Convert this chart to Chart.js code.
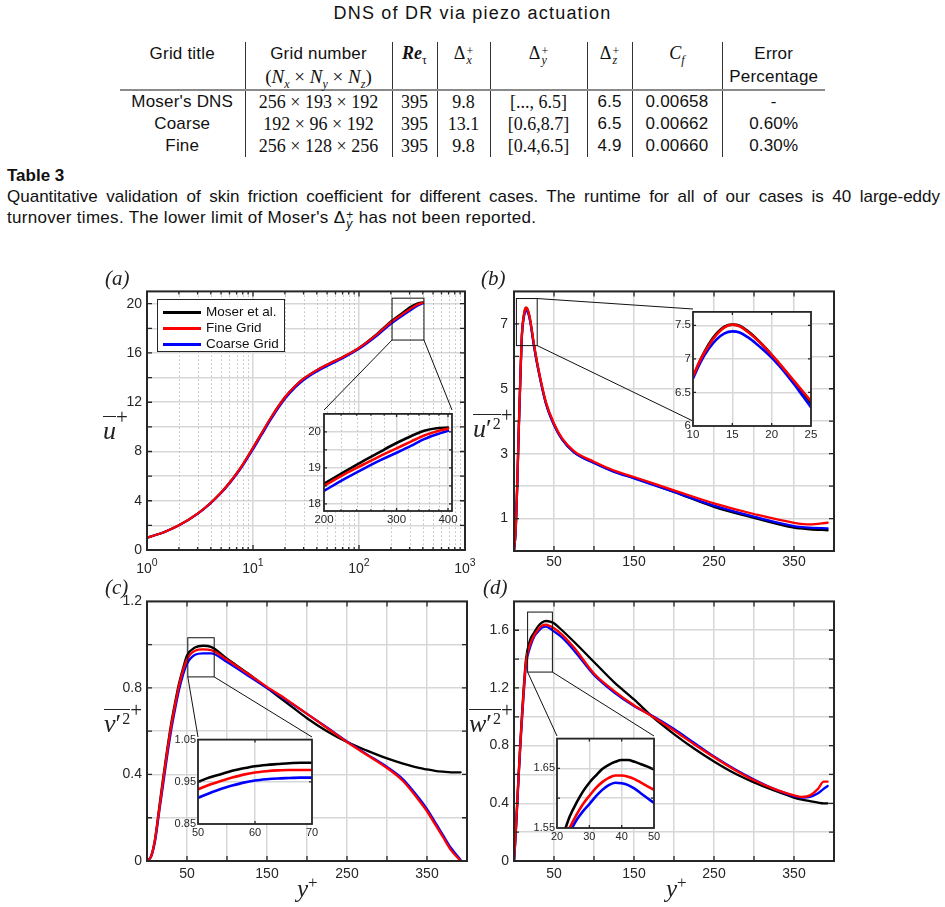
<!DOCTYPE html>
<html lang="en">
<head>
<meta charset="UTF-8">
<title>DNS of DR via piezo actuation</title>
<script src="https://cdn.jsdelivr.net/npm/chart.js@4.4.0/dist/chart.umd.min.js"></script>
<style>
  body { margin: 0; background: #fff; }
  #page { position: relative; width: 945px; height: 907px; overflow: hidden; background: #fff;
          font-family: "Liberation Sans", Arial, sans-serif; color: #111; }
  canvas { position: absolute; }
  .txt { position: absolute; white-space: nowrap; }
  .panel { font-family: "Liberation Serif", serif; font-style: italic; font-size: 21px; color: #222; }
  .axl { font-family: "Liberation Serif", serif; font-size: 25px; color: #222; line-height: 1; }
  .axl i { font-style: italic; }
  .axl sup { font-size: 17px; font-style: normal; vertical-align: 9px; }
  .yl { position: absolute; white-space: nowrap; font-family: "Liberation Serif", serif; font-size: 26px;
        line-height: 1; color: #222; }
  .yl .ovl { display: inline-block; border-top: 1.2px solid #222; padding-top: 1px; }
  .yl .ovl i { font-style: italic; }
  .yl .s2 { font-size: 16px; vertical-align: 8px; margin-left: 1px; }
  .yl .pl { font-size: 21px; vertical-align: 15px; }

  #tbl { position: absolute; left: 120px; top: 42px; border-collapse: collapse; font-size: 17px; letter-spacing: 0.2px; }
  #tbl td { padding: 0; text-align: center; white-space: nowrap; vertical-align: top; }
  #tbl td + td { border-left: 1px solid #333; }
  #tbl td div { height: 22px; line-height: 22px; }
  #tbl tr.h1 td div { height: 23px; line-height: 23px; }
  #tbl tr.h2 td div { height: 24px; line-height: 24px; }
  #tbl tr.h2 td { border-bottom: 2px solid #8a8a8a; }
  #tbl .m { font-family: "Liberation Serif", serif; font-size: 18px; letter-spacing: 0; }
  #tbl sub { font-size: 12px; line-height: 0; }
  .st { display: inline-block; vertical-align: -5px; line-height: 9px; font-size: 12px; text-align: left;
        margin-left: 1px; height: 14px; }
  .st span { display: block; }
  #cap1 { position: absolute; left: 7px; top: 187px; width: 933px; font-size: 17px; text-align: justify;
          text-align-last: justify; white-space: nowrap; }
  #cap2 { position: absolute; left: 7px; top: 208px; font-size: 17px; white-space: nowrap; letter-spacing: 0.3px; }
  .leg { position: absolute; left: 157px; top: 299px; width: 126px; height: 51px; border: 1.5px solid #262626;
         background: #fff; font-size: 13.5px; color: #111; }
  .leg div { position: absolute; left: 5px; height: 16px; line-height: 16px; }
  .leg span.ln { display: inline-block; width: 38px; height: 2.5px; vertical-align: middle; margin-right: 5px; }
</style>
</head>
<body>
<div id="page">
  <div class="txt" style="left:0; width:945px; top:3px; text-align:center; font-size:18px; letter-spacing:1.2px;">DNS of DR via piezo actuation</div>

  <table id="tbl">
    <colgroup>
      <col style="width:125px"><col style="width:147px"><col style="width:45px"><col style="width:53px">
      <col style="width:97px"><col style="width:45px"><col style="width:90px"><col style="width:103px">
    </colgroup>
    <tr class="h1">
      <td><div>Grid title</div></td><td><div>Grid number</div></td>
      <td class="m"><div><i><b>Re</b></i><sub>τ</sub></div></td>
      <td class="m"><div>Δ<span class="st"><span>+</span><span><i>x</i></span></span></div></td>
      <td class="m"><div>Δ<span class="st"><span>+</span><span><i>y</i></span></span></div></td>
      <td class="m"><div>Δ<span class="st"><span>+</span><span><i>z</i></span></span></div></td>
      <td class="m"><div><i>C</i><sub><i>f</i></sub></div></td>
      <td><div>Error</div></td>
    </tr>
    <tr class="h2">
      <td><div></div></td>
      <td class="m"><div style="font-size:19px">(<i>N</i><sub><i>x</i></sub> × <i>N</i><sub><i>y</i></sub> × <i>N</i><sub><i>z</i></sub>)</div></td>
      <td><div></div></td><td><div></div></td><td><div></div></td><td><div></div></td><td><div></div></td>
      <td><div>Percentage</div></td>
    </tr>
    <tr>
      <td><div>Moser's DNS</div></td><td class="m"><div>256 × 193 × 192</div></td><td class="m"><div>395</div></td>
      <td class="m"><div>9.8</div></td><td class="m"><div>[..., 6.5]</div></td><td><div>6.5</div></td>
      <td><div>0.00658</div></td><td><div>-</div></td>
    </tr>
    <tr>
      <td><div>Coarse</div></td><td class="m"><div>192 × 96 × 192</div></td><td class="m"><div>395</div></td>
      <td class="m"><div>13.1</div></td><td class="m"><div>[0.6,8.7]</div></td><td><div>6.5</div></td>
      <td><div>0.00662</div></td><td><div>0.60%</div></td>
    </tr>
    <tr>
      <td><div>Fine</div></td><td class="m"><div>256 × 128 × 256</div></td><td class="m"><div>395</div></td>
      <td class="m"><div>9.8</div></td><td class="m"><div>[0.4,6.5]</div></td><td><div>4.9</div></td>
      <td><div>0.00660</div></td><td><div>0.30%</div></td>
    </tr>
  </table>

  <div class="txt" style="left:7px; top:166px; font-size:17px; font-weight:bold;">Table 3</div>
  <div id="cap1">Quantitative validation of skin friction coefficient for different cases. The runtime for all of our cases is 40 large-eddy</div>
  <div id="cap2">turnover times. The lower limit of Moser's Δ<span class="st"><span>+</span><span><i>y</i></span></span> has not been reported.</div>

  <canvas id="mainA" width="384" height="304" style="left:97px; top:278px"></canvas>
  <canvas id="mainB" width="386" height="306" style="left:464px; top:277px"></canvas>
  <canvas id="mainC" width="386" height="305" style="left:97px; top:588px"></canvas>
  <canvas id="mainD" width="386" height="305" style="left:464px; top:588px"></canvas>
  <canvas id="zoomA" width="166" height="125" style="left:296px; top:404px"></canvas>
  <canvas id="zoomB" width="156" height="141" style="left:665px; top:303px"></canvas>
  <canvas id="zoomC" width="152" height="111" style="left:170px; top:731px"></canvas>
  <canvas id="zoomD" width="135" height="116" style="left:529px; top:730px"></canvas>

  <div class="leg">
    <div style="top:4px"><span class="ln" style="background:#000"></span>Moser et al.</div>
    <div style="top:20px"><span class="ln" style="background:#f00"></span>Fine Grid</div>
    <div style="top:36px"><span class="ln" style="background:#00f"></span>Coarse Grid</div>
  </div>

  <div class="txt panel" style="left:105px; top:266px">(a)</div>
  <div class="txt panel" style="left:481px; top:266px">(b)</div>
  <div class="txt panel" style="left:105px; top:575px">(c)</div>
  <div class="txt panel" style="left:483px; top:575px">(d)</div>

  <div class="yl" style="left:103px; top:407px"><span class="ovl"><i>u</i></span><span class="pl">+</span></div>
  <div class="yl" style="left:473px; top:405px"><span class="ovl"><i>u</i>′<span class="s2">2</span></span><span class="pl">+</span></div>
  <div class="yl" style="left:104px; top:700px"><span class="ovl"><i>v</i>′<span class="s2">2</span></span><span class="pl">+</span></div>
  <div class="yl" style="left:469px; top:700px"><span class="ovl"><i>w</i>′<span class="s2">2</span></span><span class="pl">+</span></div>
  <div class="txt axl" style="left:297px; top:874px"><i>y</i><sup>+</sup></div>
  <div class="txt axl" style="left:666px; top:874px"><i>y</i><sup>+</sup></div>
</div>

<script>
// (a) mean velocity, log y+
const yPlusA = [1, 1.5, 2, 3, 4, 5, 6, 7, 8, 10, 12, 15, 20, 25, 30, 40, 50, 70, 100, 150, 200, 250, 300, 350, 400];
const uMoser = [1.0, 1.51, 2.01, 2.96, 3.84, 4.67, 5.46, 6.22, 6.94, 8.3, 9.45, 10.84, 12.4, 13.32, 13.91, 14.61, 15.05, 15.66, 16.42, 17.6, 18.56, 19.18, 19.69, 20.0, 20.12];
const uFine = [1.0, 1.51, 2.01, 2.96, 3.84, 4.67, 5.46, 6.22, 6.94, 8.3, 9.45, 10.84, 12.4, 13.32, 13.91, 14.61, 15.05, 15.66, 16.42, 17.56, 18.5, 19.08, 19.54, 19.9, 20.08];
const uCoarse = [1.0, 1.51, 2.0, 2.94, 3.81, 4.63, 5.4, 6.14, 6.85, 8.18, 9.32, 10.7, 12.27, 13.2, 13.8, 14.5, 14.95, 15.57, 16.33, 17.45, 18.36, 18.95, 19.42, 19.8, 20.03];
const yPlusAZoom = [200, 225, 250, 275, 300, 325, 350, 375, 400];
const uMoserZoom = [18.56, 18.9, 19.2, 19.46, 19.69, 19.88, 20.03, 20.1, 20.12];
const uFineZoom = [18.5, 18.83, 19.1, 19.34, 19.54, 19.73, 19.9, 20.01, 20.09];
const uCoarseZoom = [18.36, 18.7, 18.98, 19.22, 19.42, 19.61, 19.8, 19.93, 20.03];

// (b) u'u'
const yPlusB = [0, 2, 4, 6, 8, 10, 12, 14, 15, 17, 20, 25, 30, 40, 50, 60, 75, 100, 125, 150, 200, 250, 300, 350, 370, 392];
const uuMoser = [0, 0.6, 2.0, 3.8, 5.4, 6.72, 7.22, 7.46, 7.5, 7.44, 7.14, 6.34, 5.65, 4.55, 3.9, 3.45, 3.05, 2.72, 2.45, 2.25, 1.82, 1.36, 1.02, 0.72, 0.67, 0.64];
const uuFine = [0, 0.6, 2.0, 3.8, 5.4, 6.72, 7.22, 7.47, 7.5, 7.45, 7.16, 6.37, 5.68, 4.58, 3.93, 3.48, 3.08, 2.75, 2.48, 2.28, 1.87, 1.47, 1.14, 0.87, 0.82, 0.87];
const uuCoarse = [0, 0.6, 2.0, 3.75, 5.3, 6.68, 7.15, 7.38, 7.41, 7.37, 7.1, 6.3, 5.62, 4.53, 3.88, 3.44, 3.04, 2.71, 2.44, 2.24, 1.82, 1.4, 1.06, 0.77, 0.72, 0.7];
const yPlusBZoom = [10, 11, 12, 13, 14, 15, 16, 17, 18, 19, 20, 21, 22, 23, 24, 25];
const uuMoserZoom = [6.73, 7.0, 7.22, 7.38, 7.48, 7.51, 7.49, 7.41, 7.31, 7.19, 7.06, 6.92, 6.78, 6.63, 6.49, 6.34];
const uuFineZoom = [6.74, 7.0, 7.2, 7.36, 7.47, 7.51, 7.48, 7.4, 7.3, 7.19, 7.06, 6.93, 6.79, 6.65, 6.51, 6.37];
const uuCoarseZoom = [6.71, 6.96, 7.15, 7.29, 7.38, 7.41, 7.39, 7.32, 7.23, 7.13, 7.02, 6.89, 6.75, 6.6, 6.44, 6.28];

// (c) v'v'
const yPlusC = [0, 5, 10, 15, 20, 25, 30, 35, 40, 45, 50, 60, 70, 80, 100, 125, 150, 175, 200, 225, 250, 275, 300, 320, 340, 350, 360, 370, 380, 392];
const vvMoser = [0, 0.02, 0.1, 0.24, 0.38, 0.51, 0.63, 0.73, 0.82, 0.89, 0.95, 0.987, 0.995, 0.99, 0.935, 0.87, 0.8, 0.73, 0.66, 0.6, 0.55, 0.51, 0.474, 0.45, 0.43, 0.423, 0.417, 0.413, 0.41, 0.41];
const vvFine = [0, 0.02, 0.1, 0.23, 0.37, 0.5, 0.62, 0.72, 0.81, 0.88, 0.932, 0.972, 0.978, 0.975, 0.93, 0.868, 0.805, 0.745, 0.68, 0.615, 0.55, 0.49, 0.43, 0.37, 0.28, 0.23, 0.17, 0.11, 0.05, 0];
const vvCoarse = [0, 0.02, 0.09, 0.22, 0.35, 0.48, 0.6, 0.7, 0.79, 0.86, 0.912, 0.953, 0.96, 0.96, 0.92, 0.86, 0.8, 0.742, 0.68, 0.617, 0.553, 0.493, 0.435, 0.378, 0.29, 0.24, 0.18, 0.12, 0.06, 0.005];
const yPlusCZoom = [50, 52, 54, 56, 58, 60, 62, 64, 66, 68, 70];
const vvMoserZoom = [0.95, 0.96, 0.968, 0.976, 0.982, 0.987, 0.99, 0.992, 0.994, 0.995, 0.995];
const vvFineZoom = [0.932, 0.943, 0.952, 0.96, 0.967, 0.972, 0.975, 0.977, 0.978, 0.978, 0.978];
const vvCoarseZoom = [0.912, 0.923, 0.933, 0.941, 0.948, 0.953, 0.956, 0.958, 0.959, 0.96, 0.96];

// (d) w'w'
const yPlusD = [0, 2, 4, 6, 8, 10, 12, 15, 20, 25, 30, 35, 40, 45, 50, 60, 75, 100, 125, 150, 175, 200, 225, 250, 275, 300, 325, 350, 360, 370, 380, 387, 392];
const wwMoser = [0, 0.18, 0.4, 0.62, 0.83, 1.02, 1.19, 1.4, 1.53, 1.583, 1.627, 1.654, 1.664, 1.66, 1.648, 1.6, 1.52, 1.38, 1.24, 1.12, 0.99, 0.88, 0.78, 0.69, 0.61, 0.545, 0.49, 0.44, 0.425, 0.415, 0.405, 0.4, 0.4];
const wwFine = [0, 0.18, 0.4, 0.62, 0.82, 1.0, 1.17, 1.38, 1.5, 1.563, 1.604, 1.632, 1.638, 1.629, 1.614, 1.57, 1.48, 1.3, 1.18, 1.08, 0.995, 0.905, 0.81, 0.72, 0.635, 0.56, 0.5, 0.455, 0.445, 0.455, 0.5, 0.55, 0.55];
const wwCoarse = [0, 0.17, 0.39, 0.6, 0.8, 0.98, 1.15, 1.36, 1.48, 1.554, 1.59, 1.618, 1.625, 1.612, 1.592, 1.55, 1.46, 1.29, 1.17, 1.075, 1.0, 0.915, 0.82, 0.725, 0.64, 0.565, 0.5, 0.45, 0.44, 0.445, 0.47, 0.5, 0.52];
const yPlusDZoom = [20, 22, 24, 26, 28, 30, 32, 34, 36, 38, 40, 42, 44, 46, 48, 50];
const wwMoserZoom = [1.51, 1.54, 1.57, 1.592, 1.611, 1.626, 1.638, 1.649, 1.656, 1.661, 1.664, 1.664, 1.661, 1.657, 1.653, 1.648];
const wwFineZoom = [1.5, 1.525, 1.551, 1.572, 1.59, 1.604, 1.617, 1.627, 1.634, 1.638, 1.638, 1.636, 1.632, 1.626, 1.62, 1.614];
const wwCoarseZoom = [1.48, 1.508, 1.542, 1.563, 1.578, 1.59, 1.603, 1.614, 1.622, 1.626, 1.625, 1.622, 1.616, 1.608, 1.6, 1.592];

// ticks
const xTicksA = [1, 10, 100, 1000];
const xExpA = ['0', '1', '2', '3'];
const xMinorA = [2, 3, 4, 5, 6, 7, 8, 9, 20, 30, 40, 50, 60, 70, 80, 90, 200, 300, 400, 500, 600, 700, 800, 900];
const yTicksA = [0, 2, 4, 6, 8, 10, 12, 14, 16, 18, 20];
const yLabelsA = [0, 4, 8, 12, 16, 20];
const xTicksAZoom = [200, 300, 400];
const xMinorAZoom = [220, 240, 260, 280, 320, 340, 360, 380];
const yTicksAZoom = [18, 18.5, 19, 19.5, 20];
const yLabelsAZoom = [18, 19, 20];
const xTicksLin = [0, 50, 100, 150, 200, 250, 300, 350, 400];
const xLabelsLin = [50, 150, 250, 350];
const yTicksB = [0, 1, 2, 3, 4, 5, 6, 7, 8];
const yLabelsB = [1, 3, 5, 7];
const xTicksBZoom = [10, 15, 20, 25];
const yTicksBZoom = [6, 6.5, 7, 7.5];
const yTicksC = [0, 0.2, 0.4, 0.6, 0.8, 1.0, 1.2];
const yLabelsC = [0, 0.4, 0.8, 1.2];
const xTicksCZoom = [50, 60, 70];
const yTicksCZoom = [0.85, 0.95, 1.05];
const yTicksD = [0, 0.2, 0.4, 0.6, 0.8, 1.0, 1.2, 1.4, 1.6, 1.8];
const yLabelsD = [0, 0.4, 0.8, 1.2, 1.6];
const xTicksDZoom = [20, 30, 40, 50];
const yTicksDZoom = [1.55, 1.6, 1.65, 1.7];
const yLabelsDZoom = [1.55, 1.65];

const GRID = '#d7d7d7';
const AXIS = '#262626';

function pts(xs, ys) { return xs.map((x, i) => ({ x: x, y: ys[i] })); }

function lines(xs, moser, fine, coarse, w) {
  const base = { pointRadius: 0, fill: false, cubicInterpolationMode: 'monotone', borderWidth: w,
                 borderJoinStyle: 'round', borderCapStyle: 'round' };
  return [
    Object.assign({ label: 'Moser et al.', data: pts(xs, moser), borderColor: '#000000', order: 3 }, base),
    Object.assign({ label: 'Coarse Grid', data: pts(xs, coarse), borderColor: '#0000ff', order: 2 }, base),
    Object.assign({ label: 'Fine Grid', data: pts(xs, fine), borderColor: '#ff0000', order: 1 }, base)
  ];
}

function near(list, v) { return list.some(t => Math.abs(t - v) < 1e-9); }

function axis(kind, min, max, ticks, labelFn, size, pad, fontSize) {
  const isX = kind === 'x';
  return {
    type: 'linear', min: min, max: max,
    afterBuildTicks: s => { s.ticks = ticks.map(v => ({ value: v })); },
    afterFit: s => { if (isX) s.height = size; else s.width = size; },
    ticks: { autoSkip: false, maxRotation: 0, padding: pad, color: AXIS,
             font: { family: 'Liberation Sans', size: fontSize }, callback: labelFn },
    grid: { color: GRID, lineWidth: 1.5, drawTicks: false },
    border: { display: false }
  };
}

const framePlugin = {
  id: 'frame',
  beforeDraw(chart, args, o) {
    if (!o.fill) return;
    const a = chart.chartArea, ctx = chart.ctx;
    ctx.save();
    ctx.fillStyle = '#ffffff';
    ctx.fillRect(a.left, a.top, a.width, a.height);
    ctx.restore();
  },
  beforeDatasetsDraw(chart, args, o) {
    if (!o.minorX) return;
    const { ctx, chartArea: a } = chart, x = chart.scales.x;
    ctx.save();
    ctx.strokeStyle = '#bdbdbd';
    ctx.lineWidth = 1;
    ctx.setLineDash([1.5, 2.5]);
    ctx.beginPath();
    o.minorX.forEach(v => {
      const p = Math.round(x.getPixelForValue(v)) + 0.5;
      if (p > a.left + 1 && p < a.right - 1) { ctx.moveTo(p, a.top); ctx.lineTo(p, a.bottom); }
    });
    ctx.stroke();
    ctx.restore();
  },
  afterDraw(chart, args, o) {
    const { ctx, chartArea: a } = chart, x = chart.scales.x, y = chart.scales.y;
    const L = o.tickLen || 5;
    ctx.save();
    ctx.strokeStyle = AXIS;
    ctx.lineWidth = o.tickWidth || 1.3;
    ctx.beginPath();
    x.ticks.forEach(t => {
      const p = x.getPixelForValue(t.value);
      if (p < a.left + 1 || p > a.right - 1) return;
      ctx.moveTo(p, a.bottom); ctx.lineTo(p, a.bottom - L);
      ctx.moveTo(p, a.top); ctx.lineTo(p, a.top + L);
    });
    (o.minorX || []).forEach(v => {
      const p = x.getPixelForValue(v);
      if (p < a.left + 1 || p > a.right - 1) return;
      ctx.moveTo(p, a.bottom); ctx.lineTo(p, a.bottom - L * 0.6);
      ctx.moveTo(p, a.top); ctx.lineTo(p, a.top + L * 0.6);
    });
    y.ticks.forEach(t => {
      const p = y.getPixelForValue(t.value);
      if (p < a.top + 1 || p > a.bottom - 1) return;
      ctx.moveTo(a.left, p); ctx.lineTo(a.left + L, p);
      ctx.moveTo(a.right, p); ctx.lineTo(a.right - L, p);
    });
    ctx.stroke();
    ctx.lineWidth = o.boxWidth || 2;
    ctx.strokeRect(a.left, a.top, a.width, a.height);
    // power-of-ten labels: base "10" with a raised exponent
    if (o.powers) {
      ctx.fillStyle = AXIS;
      ctx.textBaseline = 'alphabetic';
      x.ticks.forEach((t, i) => {
        const p = x.getPixelForValue(t.value);
        ctx.font = '14px "Liberation Sans"';
        const wb = ctx.measureText('10').width;
        ctx.font = '10.5px "Liberation Sans"';
        const we = ctx.measureText(o.powers[i]).width;
        const left = p - (wb + we) / 2;
        ctx.font = '14px "Liberation Sans"';
        ctx.textAlign = 'left';
        ctx.fillText('10', left, a.bottom + 23);
        ctx.font = '10.5px "Liberation Sans"';
        ctx.fillText(o.powers[i], left + wb, a.bottom + 16);
      });
    }
    if (o.zoom) {
      const z = o.zoom;
      const x0 = x.getPixelForValue(z.x[0]), x1 = x.getPixelForValue(z.x[1]);
      const y0 = y.getPixelForValue(z.y[0]), y1 = y.getPixelForValue(z.y[1]);
      const corner = { bl: [x0, y0], br: [x1, y0], tl: [x0, y1], tr: [x1, y1] };
      ctx.strokeStyle = '#111';
      ctx.lineWidth = 1;
      ctx.strokeRect(x0, y1, x1 - x0, y0 - y1);
      ctx.beginPath();
      z.links.forEach(l => {
        const c = corner[l[0]];
        ctx.moveTo(c[0], c[1]);
        ctx.lineTo(l[1] - z.origin[0], l[2] - z.origin[1]);
      });
      ctx.stroke();
    }
    ctx.restore();
  }
};

function build(id, datasets, scales, pad, frame) {
  return new Chart(document.getElementById(id), {
    type: 'line',
    data: { datasets: datasets },
    options: {
      responsive: false, animation: false, devicePixelRatio: 1,
      layout: { padding: pad },
      plugins: { legend: { display: false }, tooltip: { enabled: false }, frame: frame },
      scales: scales
    },
    plugins: [framePlugin]
  });
}

const fmt = v => String(Math.round(v * 100) / 100);
const mainPad = { top: 12, right: 16, left: 0, bottom: 0 };
const insetPad = { top: 6, right: 10, left: 0, bottom: 0 };

// (a)
const axA = axis('x', 1, 1000, xTicksA, () => '', 32, 6, 14);
axA.type = 'logarithmic';
build('mainA', lines(yPlusA, uMoser, uFine, uCoarse, 2.2), {
  x: axA,
  y: axis('y', 0, 21, yTicksA, v => near(yLabelsA, v) ? fmt(v) : '', 50, 5, 14)
}, mainPad, { minorX: xMinorA, powers: xExpA,
  zoom: { x: [205, 410], y: [17.05, 20.45], origin: [97, 278], links: [['bl', 324, 410], ['br', 452, 410]] } });

const axAZ = axis('x', 200, 409, xTicksAZoom, v => fmt(v), 18, 2, 11.5);
axAZ.type = 'logarithmic';
build('zoomA', lines(yPlusAZoom, uMoserZoom, uFineZoom, uCoarseZoom, 2.6), {
  x: axAZ,
  y: axis('y', 17.8, 20.5, yTicksAZoom, v => near(yLabelsAZoom, v) ? fmt(v) : '', 28, 3, 11.5)
}, insetPad, { fill: true, minorX: xMinorAZoom, tickLen: 3, boxWidth: 1.8 });

// (b)
build('mainB', lines(yPlusB, uuMoser, uuFine, uuCoarse, 2.3), {
  x: axis('x', 0, 400, xTicksLin, v => near(xLabelsLin, v) ? fmt(v) : '', 32, 3, 14),
  y: axis('y', 0, 8, yTicksB, v => near(yLabelsB, v) ? fmt(v) : '', 50, 6, 14)
}, mainPad, {
  zoom: { x: [3, 29], y: [6.33, 7.78], origin: [464, 277], links: [['tr', 693, 309], ['br', 693, 421]] } });

build('zoomB', lines(yPlusBZoom, uuMoserZoom, uuFineZoom, uuCoarseZoom, 2.6), {
  x: axis('x', 10, 25, xTicksBZoom, v => fmt(v), 18, 2, 11.5),
  y: axis('y', 6, 7.7, yTicksBZoom, v => fmt(v), 28, 2, 11.5)
}, insetPad, { fill: true, tickLen: 3, boxWidth: 1.8 });

// (c)
build('mainC', lines(yPlusC, vvMoser, vvFine, vvCoarse, 2.3), {
  x: axis('x', 0, 400, xTicksLin, v => near(xLabelsLin, v) ? fmt(v) : '', 32, 5, 14),
  y: axis('y', 0, 1.2, yTicksC, v => near(yLabelsC, v) ? fmt(v) : '', 50, 5, 14)
}, mainPad, {
  zoom: { x: [51, 84], y: [0.851, 1.032], origin: [97, 588], links: [['bl', 198, 737], ['br', 312, 737]] } });

build('zoomC', lines(yPlusCZoom, vvMoserZoom, vvFineZoom, vvCoarseZoom, 2.6), {
  x: axis('x', 50, 70, xTicksCZoom, v => fmt(v), 18, 2, 11),
  y: axis('y', 0.85, 1.05, yTicksCZoom, v => fmt(v), 28, 2, 11)
}, insetPad, { fill: true, tickLen: 3, boxWidth: 1.8 });

// (d)
build('mainD', lines(yPlusD, wwMoser, wwFine, wwCoarse, 2.3), {
  x: axis('x', 0, 400, xTicksLin, v => near(xLabelsLin, v) ? fmt(v) : '', 32, 5, 14),
  y: axis('y', 0, 1.8, yTicksD, v => near(yLabelsD, v) ? fmt(v) : '', 50, 5, 14)
}, mainPad, {
  zoom: { x: [17, 48], y: [1.31, 1.726], origin: [464, 588], links: [['bl', 557, 736], ['br', 654, 736]] } });

build('zoomD', lines(yPlusDZoom, wwMoserZoom, wwFineZoom, wwCoarseZoom, 2.6), {
  x: axis('x', 20, 50, xTicksDZoom, v => fmt(v), 18, 2, 11),
  y: axis('y', 1.55, 1.7, yTicksDZoom, v => near(yLabelsDZoom, v) ? fmt(v) : '', 28, 2, 11)
}, insetPad, { fill: true, tickLen: 3, boxWidth: 1.8 });
</script>
</body>
</html>
